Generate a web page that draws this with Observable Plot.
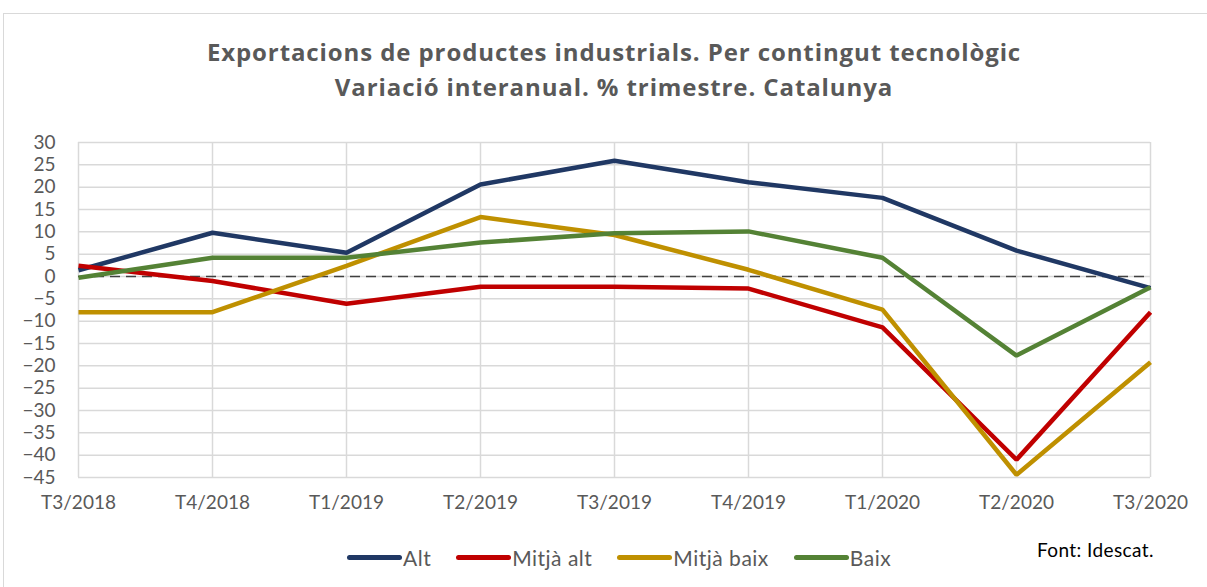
<!DOCTYPE html>
<html>
<head>
<meta charset="utf-8">
<script src="https://cdn.jsdelivr.net/npm/d3@7"></script>
<script src="https://cdn.jsdelivr.net/npm/@observablehq/plot@0.6"></script>
<style>
  html, body { margin: 0; padding: 0; background: #fff; }
  #wrap { position: relative; width: 1207px; height: 587px; overflow: hidden; font-family: Lato, sans-serif; }
  #frame { position: absolute; left: 3px; top: 13px; width: 1220px; height: 600px; border: 1px solid #d9d9d9; box-sizing: border-box; }
  .title { position: absolute; left: 0; width: 1228px; text-align: center; font-family: "Open Sans", sans-serif; font-weight: bold; font-size: 24px; letter-spacing: 0.9px; color: #595959; white-space: nowrap; }
  #chart { position: absolute; left: 0; top: 0; }
  #legend { position: absolute; left: 347px; top: 545px; display: flex; align-items: center; font-size: 21px; letter-spacing: 0.5px; color: #595959; }
  .item { display: flex; align-items: center; margin-right: 25px; }
  .sw { width: 55px; height: 5px; border-radius: 3px; margin-right: 1px; }
  #source { position: absolute; left: 1037px; top: 538px; font-size: 19px; letter-spacing: 0.4px; color: #000; }
</style>
</head>
<body>
<div id="wrap">
  <div id="frame"></div>
  <div class="title" style="top:35px">Exportacions de productes industrials. Per contingut tecnològic</div>
  <div class="title" style="top:70px">Variació interanual. % trimestre. Catalunya</div>
  <div id="chart"></div>
  <div id="legend"></div>
  <div id="source">Font: Idescat.</div>
</div>
<script>
const quarters = ["T3/2018","T4/2018","T1/2019","T2/2019","T3/2019","T4/2019","T1/2020","T2/2020","T3/2020"];
const seriesNames = ["Alt","Mitjà alt","Mitjà baix","Baix"];
const seriesColors = ["#203864","#C00000","#BF9000","#548235"];
const alt       = [1.4, 9.8, 5.3, 20.6, 25.9, 21.1, 17.6, 5.8, -2.6];
const mitjaAlt  = [2.4, -1.0, -6.1, -2.3, -2.3, -2.7, -11.4, -41.0, -8.0];
const mitjaBaix = [-8.0, -8.0, 2.4, 13.3, 9.3, 1.5, -7.4, -44.4, -19.2];
const baix      = [-0.3, 4.2, 4.2, 7.6, 9.7, 10.1, 4.2, -17.7, -2.4];
const yTicks = [-45,-40,-35,-30,-25,-20,-15,-10,-5,0,5,10,15,20,25,30];

const valuesBySeries = [alt, mitjaAlt, mitjaBaix, baix];
const data = [];
seriesNames.forEach((s, i) => {
  valuesBySeries[i].forEach((v, j) => data.push({serie: s, q: quarters[j], v}));
});

const plot = Plot.plot({
  width: 1207,
  height: 587,
  marginTop: 142,
  marginBottom: 110,
  marginLeft: 78,
  marginRight: 57,
  style: { fontFamily: "Lato, sans-serif", fontSize: "19px", color: "#595959", background: "transparent" },
  x: { type: "point", domain: quarters, padding: 0, label: null },
  y: { domain: [-45, 30], label: null },
  color: { domain: seriesNames, range: seriesColors },
  marks: [
    Plot.gridY(yTicks, { stroke: "#d9d9d9", strokeOpacity: 1, strokeWidth: 1.5 }),
    Plot.gridX(quarters, { stroke: "#d9d9d9", strokeOpacity: 1, strokeWidth: 1.5 }),
    Plot.axisY(yTicks, { tickSize: 0, tickPadding: 23, label: null, fontSize: 19 }),
    Plot.axisX(quarters, { tickSize: 0, tickPadding: 18, label: null, fontSize: 19 }),
    Plot.ruleY([0], { stroke: "#404040", strokeWidth: 1.5, strokeDasharray: "10,6" }),
    Plot.line(data, { x: "q", y: "v", z: "serie", stroke: "serie", strokeWidth: 4.5, strokeLinejoin: "miter", strokeLinecap: "butt" })
  ]
});
document.getElementById("chart").appendChild(plot);

const legend = document.getElementById("legend");
seriesNames.forEach((s, i) => {
  const it = document.createElement("div");
  it.className = "item";
  const sw = document.createElement("div");
  sw.className = "sw";
  sw.style.background = seriesColors[i];
  const t = document.createElement("span");
  t.textContent = s;
  it.appendChild(sw); it.appendChild(t);
  legend.appendChild(it);
});
</script>
</body>
</html>
